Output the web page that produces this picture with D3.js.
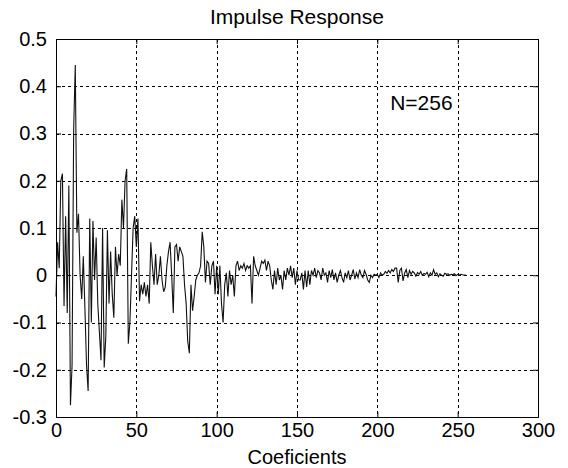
<!DOCTYPE html>
<html>
<head>
<meta charset="utf-8">
<script src="https://cdn.jsdelivr.net/npm/d3@7"></script>
<style>
  body { margin: 0; background: #fff; }
  text { font-family: "Liberation Sans", Arial, sans-serif; fill: #000; }
</style>
</head>
<body>
<div id="chart"></div>
<script>
// impulse response coefficients, n = 0..255
var h = [
  -0.045, 0.07, 0.015, 0.2, 0.215, -0.065, 0.125, -0.08, 0.19, -0.275,
  -0.19, 0.31, 0.445, 0.09, 0.13, 0.0, -0.05, 0.04, -0.07, -0.19,
  -0.245, 0.12, -0.1, 0.115, -0.01, 0.08, -0.06, -0.12, -0.18, 0.1,
  -0.195, -0.13, 0.095, -0.06, 0.05, -0.04, -0.09, 0.06, 0.0, 0.045,
  0.02, 0.16, 0.1, 0.2, 0.225, -0.145, -0.1, 0.0, 0.1, 0.125,
  0.06, 0.12, -0.055, -0.02, -0.04, -0.015, -0.045, -0.02, -0.06, 0.07,
  0.02, -0.02, 0.045, -0.02, 0.0, 0.04, -0.01, -0.035, -0.025, 0.02,
  0.05, 0.07, 0.0, -0.08, 0.06, 0.065, 0.03, 0.06, 0.05, 0.04,
  -0.02, -0.06, -0.14, -0.165, -0.02, -0.075, -0.045, -0.01, 0.0, 0.005,
  0.02, 0.092, 0.06, -0.015, 0.03, 0.025, -0.02, 0.02, 0.03, -0.04,
  0.02, -0.04, 0.02, -0.06, -0.1, -0.02, 0.005, -0.045, 0.01, -0.02,
  0.0, -0.045, 0.02, 0.03, 0.01, 0.02, 0.015, 0.025, 0.01, 0.02,
  0.015, 0.02, -0.06, 0.04, 0.02, 0.01, 0.0, 0.015, 0.03, 0.025,
  0.032, 0.01, 0.03, 0.02, -0.01, -0.03, 0.01, -0.02, 0.015, -0.01,
  0.0, -0.03, 0.01, -0.01, 0.015, 0.0, 0.02, -0.005, 0.015, -0.02,
  0.01, -0.01, -0.01, 0.005, -0.03, 0.01, -0.025, 0.01, -0.02, 0.01,
  0.0, 0.015, -0.005, 0.01, 0.005, -0.01, 0.015, 0.0, 0.005, -0.015,
  0.01, -0.005, 0.012, -0.01, 0.005, -0.015, 0.0, 0.01, -0.005, -0.015,
  0.005, -0.005, 0.01, -0.01, 0.0, 0.012, -0.008, 0.005, -0.005, 0.012,
  0.0, -0.005, 0.01, 0.002, -0.01, -0.015, 0.0, -0.005, 0.002, 0.0,
  0.002, -0.005, 0.005, 0.0, 0.002, 0.008, 0.004, 0.01, 0.005, 0.012,
  0.008, 0.015, 0.015, -0.015, 0.01, 0.015, -0.012, 0.005, 0.012, -0.005,
  0.01, 0.002, 0.008, 0.005, -0.002, 0.006, 0.002, 0.008, 0.0, 0.004,
  0.002, 0.006, -0.003, 0.005, 0.0, 0.012, 0.002, 0.005, -0.003, 0.003,
  0.0, -0.002, 0.004, 0.002, 0.003, 0.0, 0.002, 0.001, 0.003, -0.001,
  0.002, 0.0, 0.002, 0.001, 0.0, 0.001
];

var xTicks = [0, 50, 100, 150, 200, 250, 300];
var yTicks = [-0.3, -0.2, -0.1, 0, 0.1, 0.2, 0.3, 0.4, 0.5];

var title = 'Impulse Response';
var xLabel = 'Coeficients';
var note = 'N=256';

var W = 568, H = 468;
var margin = {top: 39, right: 30, bottom: 51, left: 56};
var w = W - margin.left - margin.right,
    ht = H - margin.top - margin.bottom;

var svg = d3.select('#chart').append('svg')
    .attr('width', W)
    .attr('height', H);

var g = svg.append('g')
    .attr('transform', 'translate(' + margin.left + ',' + margin.top + ')');

var x = d3.scaleLinear().domain([0, 300]).range([0, w]);
var y = d3.scaleLinear().domain([-0.3, 0.5]).range([ht, 0]);

// dotted grid
g.selectAll('.vgrid')
    .data(xTicks.slice(1, -1))
  .enter().append('line')
    .attr('x1', function(d) { return Math.round(x(d)) + 0.5; })
    .attr('x2', function(d) { return Math.round(x(d)) + 0.5; })
    .attr('y1', 0).attr('y2', ht)
    .style('stroke', '#000')
    .style('stroke-dasharray', '3,3');

g.selectAll('.hgrid')
    .data(yTicks.slice(1, -1))
  .enter().append('line')
    .attr('y1', function(d) { return Math.round(y(d)) + 0.5; })
    .attr('y2', function(d) { return Math.round(y(d)) + 0.5; })
    .attr('x1', 0).attr('x2', w)
    .style('stroke', '#000')
    .style('stroke-dasharray', '3,3');

// the response
var line = d3.line()
    .x(function(d, i) { return x(i); })
    .y(function(d) { return y(d); });

g.append('path')
    .datum(h)
    .attr('d', line)
    .style('fill', 'none')
    .style('stroke', '#111')
    .style('stroke-width', 1.1);

// axes, ticks pointing inward like matlab; plain hyphen for negatives
var fmt = function(d) { return d === 0 ? '0' : d.toFixed(1); };

g.append('g')
    .attr('transform', 'translate(0,' + ht + ')')
    .call(d3.axisBottom(x).tickValues(xTicks).tickSize(-5).tickPadding(6));
g.append('g')
    .call(d3.axisTop(x).tickValues(xTicks).tickSize(-5).tickFormat(''));
g.append('g')
    .call(d3.axisLeft(y).tickValues(yTicks).tickFormat(fmt).tickSize(-5).tickPadding(9));
g.append('g')
    .attr('transform', 'translate(' + w + ',0)')
    .call(d3.axisRight(y).tickValues(yTicks).tickSize(-5).tickFormat(''));

svg.selectAll('.domain').style('stroke', '#000');
svg.selectAll('.tick line').style('stroke', '#000');
svg.selectAll('.tick text')
    .style('font-family', '"Liberation Sans", Arial, sans-serif')
    .style('font-size', '20px')
    .style('fill', '#000');

svg.append('text')
    .attr('x', margin.left + w / 2)
    .attr('y', 24)
    .attr('text-anchor', 'middle')
    .style('font-size', '21px')
    .text(title);

svg.append('text')
    .attr('x', margin.left + w / 2)
    .attr('y', 464)
    .attr('text-anchor', 'middle')
    .style('font-size', '20px')
    .text(xLabel);

g.append('text')
    .attr('x', x(208))
    .attr('y', y(0.35))
    .style('font-size', '21px')
    .text(note);
</script>
</body>
</html>
